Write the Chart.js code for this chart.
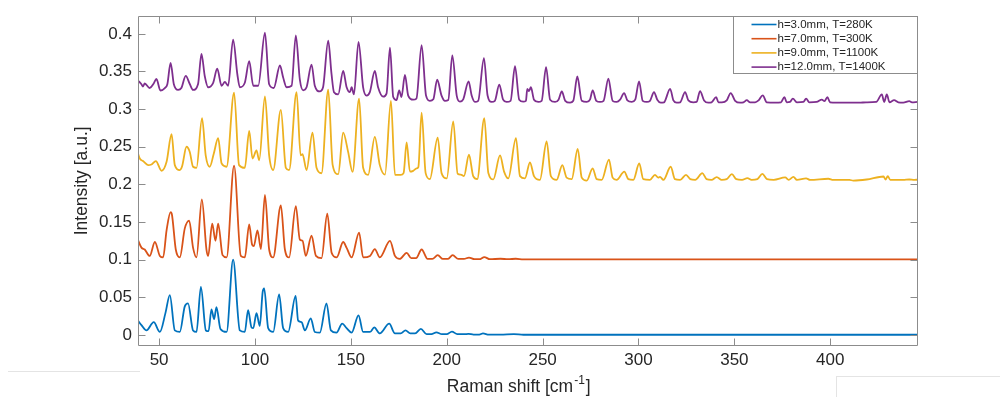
<!DOCTYPE html>
<html>
<head>
<meta charset="utf-8">
<script src="https://cdn.jsdelivr.net/npm/chart.js@4.4.1/dist/chart.umd.min.js"></script>
<style>
  html, body { margin: 0; padding: 0; background: #fff; }
  #wrap { width: 1000px; height: 397px; }
</style>
</head>
<body>
<div id="wrap"><canvas id="raman" width="1000" height="397"></canvas></div>
<script>
// Raman spectra, [shift cm^-1, intensity a.u.] (peaks and valleys)
const spec3mm = [
  [39, 0.019], [40.8, 0.013], [43.4, 0.006], [47.2, 0.017], [50.4, 0.004], [53.3, 0.029], [55.6, 0.053],
  [58.2, 0.006], [60.8, 0.004], [63.4, 0.038], [65.1, 0.042], [67.7, 0.006], [69.5, 0.004], [71.8, 0.064],
  [74.4, 0.006], [75.8, 0.005], [77.3, 0.034], [78.7, 0.021], [79.9, 0.037], [82, 0.008], [85.2, 0.004],
  [88.6, 0.100], [92.1, 0.006], [94.7, 0.004], [96.4, 0.033], [98.2, 0.010], [99.1, 0.009], [100.8, 0.029],
  [102.5, 0.012], [104, 0.057], [104.8, 0.062], [106.9, 0.009], [109.5, 0.004], [112.6, 0.054], [114.7, 0.009],
  [117.3, 0.004], [121.2, 0.052], [122.5, 0.019], [124.3, 0.017], [126, 0.006], [129.1, 0.022], [131.2, 0.004],
  [133.8, 0.003], [137.3, 0.042], [139.6, 0.006], [142.5, 0.003], [145.5, 0.015], [147.8, 0.009], [150.4, 0.003],
  [154, 0.026], [156.4, 0.004], [160, 0.004], [162.2, 0.010], [165.1, 0.002], [170, 0.015], [173, 0.002],
  [176, 0.002], [178.5, 0.006], [181, 0.002], [183.5, 0.002], [186.5, 0.008], [189.5, 0.001], [192, 0.001],
  [194.6, 0.0035], [197.5, 0.001], [200, 0.001], [202.7, 0.0045], [205.5, 0.001], [209, 0.001], [211.3, 0.0015],
  [214, 0.0005], [217, 0.0005], [218.9, 0.002], [222, 0.0005], [228, 0.0005], [235, 0.001], [240, 0.0003],
  [445.5, 0.0003]
];

const spec7mm = [
  [39, 0.126], [40.8, 0.116], [42.5, 0.1135], [45.1, 0.105], [47.8, 0.1235], [50.4, 0.105], [52.1, 0.103],
  [53.9, 0.139], [56, 0.163], [56.6, 0.161], [58.7, 0.1135], [60.8, 0.103], [63.4, 0.1416], [65.7, 0.152],
  [67.7, 0.116], [69.5, 0.103], [72.3, 0.180], [74.7, 0.1135], [75.6, 0.105], [77.7, 0.148], [79.4, 0.125],
  [80.8, 0.148], [83.1, 0.106], [85.2, 0.103], [89.1, 0.225], [92.6, 0.105], [94.7, 0.103], [97, 0.147],
  [98.5, 0.120], [99.4, 0.118], [101.3, 0.139], [103.1, 0.114], [105.2, 0.186], [107.4, 0.1135], [109.5, 0.103],
  [113.5, 0.172], [115.6, 0.1135], [117.8, 0.103], [121.3, 0.171], [123.4, 0.1265], [124.8, 0.125], [126.5, 0.105],
  [129.5, 0.132], [131.8, 0.105], [134.7, 0.102], [137.7, 0.161], [140, 0.109], [142.6, 0.103], [146, 0.1235],
  [147.8, 0.1157], [150.4, 0.103], [154.3, 0.136], [156.4, 0.103], [160, 0.105], [162.5, 0.114], [165.1, 0.103],
  [170.4, 0.125], [173, 0.105], [175.5, 0.101], [179.1, 0.109], [181.5, 0.102], [184, 0.102], [186.9, 0.1135],
  [190, 0.101], [192.5, 0.101], [195.3, 0.106], [198, 0.101], [200.5, 0.101], [203.1, 0.106], [206, 0.101],
  [209, 0.101], [211.6, 0.1028], [214.5, 0.1006], [217, 0.1006], [219.6, 0.1035], [222.5, 0.1006], [228, 0.1012],
  [232, 0.1006], [236, 0.1012], [240, 0.1003], [445.5, 0.1003]
];

const spec9mm = [
  [39, 0.241], [40, 0.234], [41.6, 0.231], [44.3, 0.2256], [46, 0.2265], [48.3, 0.231], [51.3, 0.218],
  [53.9, 0.230], [56.5, 0.2666], [58.2, 0.2256], [60.8, 0.219], [62, 0.224], [64.3, 0.250], [66, 0.243],
  [67.7, 0.2234], [69.5, 0.222], [72.4, 0.288], [74.3, 0.2385], [76.4, 0.2234], [78.5, 0.2407], [80.8, 0.2614],
  [82.6, 0.2278], [85.2, 0.2234], [89.1, 0.322], [91.7, 0.2256], [94.7, 0.222], [97, 0.271], [98.7, 0.2343],
  [100.8, 0.245], [102.2, 0.232], [105.2, 0.317], [107.4, 0.2385], [109.5, 0.219], [113.5, 0.299], [116.1, 0.222],
  [117.8, 0.219], [121.7, 0.3226], [123.8, 0.2385], [124.8, 0.240], [126.9, 0.219], [130, 0.2687], [132.1, 0.222],
  [134.7, 0.2148], [138.2, 0.326], [140.5, 0.226], [143.4, 0.2135], [146, 0.2687], [148.6, 0.2428], [150.9, 0.2165],
  [154.3, 0.314], [156.4, 0.222], [159, 0.2127], [162.5, 0.263], [165.1, 0.2256], [167.8, 0.213], [170.9, 0.311],
  [173, 0.2127], [176, 0.2127], [177.5, 0.215], [179.1, 0.2557], [180.8, 0.217], [182.5, 0.218], [184.3, 0.2213],
  [185.2, 0.223], [186.9, 0.2954], [189, 0.215], [191.2, 0.2071], [195.3, 0.2622], [197.3, 0.215], [200, 0.208],
  [203.4, 0.2838], [205.7, 0.214], [207.3, 0.213], [209, 0.211], [211.6, 0.2394], [213.8, 0.211], [215.9, 0.207],
  [219.6, 0.288], [221.7, 0.215], [224.3, 0.2067], [227.8, 0.2385], [229.9, 0.217], [232.1, 0.208], [236.1, 0.2614],
  [238.2, 0.211], [240.8, 0.208], [243.4, 0.2291], [245.5, 0.211], [248.6, 0.206], [252.1, 0.257], [254.3, 0.211],
  [257.3, 0.206], [260.3, 0.2256], [262.5, 0.209], [265.2, 0.207], [268.3, 0.2472], [270.4, 0.209], [273, 0.205],
  [276.1, 0.2213], [278.2, 0.207], [280.8, 0.206], [284.6, 0.233], [286.5, 0.209], [288.6, 0.206], [292.6, 0.217],
  [294.7, 0.207], [297.3, 0.206], [300.4, 0.2278], [302.5, 0.207], [306, 0.206], [308.6, 0.2127], [310.3, 0.209],
  [311.2, 0.210], [313, 0.206], [316.8, 0.2234], [319, 0.207], [321.7, 0.206], [324.8, 0.2127], [327, 0.207],
  [329.6, 0.206], [333.3, 0.2149], [335.5, 0.207], [338.1, 0.206], [340.8, 0.2097], [343.4, 0.206], [346, 0.207],
  [348.7, 0.2136], [351, 0.207], [354, 0.206], [356.8, 0.2084], [359, 0.206], [362, 0.207], [364.6, 0.214],
  [367, 0.207], [370.5, 0.206], [376.5, 0.2092], [378.3, 0.206], [380.8, 0.210], [382.6, 0.206], [387.4, 0.208],
  [389.5, 0.206], [399, 0.2075], [401.6, 0.206], [410, 0.206], [412, 0.205], [419, 0.2065], [427.8, 0.2105],
  [428.8, 0.2065], [430, 0.211], [431.3, 0.206], [438, 0.206], [441.2, 0.2065], [443.8, 0.206], [445.5, 0.2063]
];

const spec12mm = [
  [39, 0.338], [40.8, 0.333], [41.6, 0.330], [42.5, 0.334], [45.1, 0.328], [47.2, 0.334], [48.6, 0.340],
  [50.7, 0.3247], [53, 0.328], [54.3, 0.333], [56, 0.3613], [57.7, 0.333], [59.9, 0.3255], [61.6, 0.328],
  [63.9, 0.3441], [66, 0.3333], [67.7, 0.3255], [70.3, 0.333], [72.1, 0.3734], [73.8, 0.344], [75.6, 0.329],
  [78.2, 0.335], [80.3, 0.3536], [82.6, 0.331], [84.3, 0.336], [86, 0.331], [88.6, 0.3924], [90.8, 0.3463],
  [92.1, 0.329], [94.7, 0.335], [97, 0.3636], [99.1, 0.331], [101.7, 0.331], [105.2, 0.4014], [107.4, 0.333],
  [109.8, 0.328], [113, 0.3579], [114.7, 0.342], [116.5, 0.329], [119.1, 0.331], [121.3, 0.398], [123.4, 0.339],
  [125.1, 0.325], [126.9, 0.329], [129.5, 0.3592], [131.2, 0.331], [133.8, 0.3235], [135.5, 0.329], [138.2, 0.391],
  [139.9, 0.347], [141.2, 0.3225], [143.4, 0.3195], [146, 0.3506], [147.8, 0.329], [149.5, 0.3225], [150.4, 0.329],
  [151.6, 0.3195], [154, 0.3894], [156.4, 0.329], [158.2, 0.318], [159.9, 0.3225], [162.5, 0.3506], [164.2, 0.329],
  [166.9, 0.3165], [168.6, 0.3205], [170.4, 0.3816], [172.1, 0.316], [173.8, 0.312], [175.2, 0.3248], [176.4, 0.316],
  [178.2, 0.3454], [179.9, 0.318], [182.5, 0.3125], [184.2, 0.314], [186.9, 0.385], [189.2, 0.318], [191.2, 0.311],
  [193, 0.313], [195, 0.339], [197.3, 0.318], [199.1, 0.311], [200.8, 0.312], [202.9, 0.3713], [205.2, 0.318],
  [206.9, 0.310], [208.6, 0.313], [211.4, 0.3368], [213, 0.318], [214.7, 0.3095], [216.4, 0.311], [219.4, 0.3678],
  [221.3, 0.318], [223.4, 0.3095], [225.1, 0.311], [227.4, 0.3325], [229.4, 0.3125], [231.2, 0.3095], [233.3, 0.311],
  [235.6, 0.357], [237.8, 0.3125], [239.9, 0.310], [241.3, 0.311], [242, 0.3268], [242.9, 0.324], [243.9, 0.329],
  [245.5, 0.3125], [247.7, 0.3095], [249.5, 0.311], [251.8, 0.3558], [253.9, 0.3125], [256.5, 0.3095], [258.3, 0.3125],
  [260, 0.3234], [261.8, 0.311], [264.3, 0.3085], [266, 0.311], [268.1, 0.3433], [270.4, 0.311], [273, 0.3095],
  [274.7, 0.3125], [276.1, 0.3248], [278, 0.311], [280, 0.3095], [281.8, 0.311], [284.3, 0.3406], [286.5, 0.311],
  [288.6, 0.3095], [290.4, 0.3125], [292.5, 0.3213], [294.2, 0.3115], [296.5, 0.3095], [298.3, 0.3125], [300.3, 0.3368],
  [302.2, 0.311], [304.3, 0.3095], [306, 0.311], [308.1, 0.3226], [309.8, 0.3125], [311.6, 0.3085], [313.3, 0.309],
  [316.5, 0.3268], [318.2, 0.3115], [319.9, 0.3085], [321.7, 0.309], [324.3, 0.3226], [326, 0.3115], [328.6, 0.309],
  [330.3, 0.3095], [332.1, 0.3239], [334.2, 0.3115], [336.4, 0.3085], [338.1, 0.309], [340.5, 0.316], [341.7, 0.309],
  [343.5, 0.309], [346, 0.3115], [348.1, 0.3213], [350.4, 0.311], [353, 0.3085], [354.7, 0.309], [356.5, 0.3118],
  [358.2, 0.309], [360.8, 0.309], [362.6, 0.3115], [364.8, 0.3183], [366.9, 0.309], [371.2, 0.3085], [374.3, 0.309],
  [376.1, 0.316], [377.3, 0.309], [379, 0.3095], [380.5, 0.3139], [382.6, 0.309], [386, 0.3095], [387.4, 0.3139],
  [389.1, 0.309], [392.9, 0.3095], [395.6, 0.3126], [397, 0.3105], [398.5, 0.316], [399.9, 0.309], [403.3, 0.3085],
  [410, 0.3085], [415.2, 0.3085], [418.7, 0.309], [424, 0.3095], [426.9, 0.3195], [428.1, 0.3095], [429.5, 0.3195],
  [430.9, 0.309], [433.3, 0.3118], [435.5, 0.309], [438.1, 0.3085], [441.2, 0.3105], [442.6, 0.309], [445.5, 0.3095]
];

const seriesLabels = ['h=3.0mm, T=280K', 'h=7.0mm, T=300K', 'h=9.0mm, T=1100K', 'h=12.0mm, T=1400K'];
const seriesColors = ['#0072BD', '#D95319', '#EDB120', '#7E2F8E'];
const xTickValues = [50, 100, 150, 200, 250, 300, 350, 400];
const yTickValues = [0, 0.05, 0.1, 0.15, 0.2, 0.25, 0.3, 0.35, 0.4];

const AXIS = '#8c8c8c';
const TEXT = '#262626';
const FONT = "'Liberation Sans', Arial, Helvetica, sans-serif";

// Box, inward ticks, legend and x-label with superscript (MATLAB look)
const matlabFrame = {
  id: 'matlabFrame',
  afterDatasetsDraw(chart) {
    const { ctx, chartArea: a, scales: { x, y } } = chart;
    const L = Math.round(a.left) + 0.5, R = Math.round(a.right) - 0.5;
    const T = Math.round(a.top) + 0.5, B = Math.round(a.bottom) - 0.5;
    ctx.save();
    ctx.strokeStyle = AXIS;
    ctx.lineWidth = 1;
    ctx.beginPath();
    ctx.rect(L, T, R - L, B - T);
    x.ticks.forEach(t => {
      const px = Math.round(x.getPixelForValue(t.value)) + 0.5;
      ctx.moveTo(px, B); ctx.lineTo(px, B - 7);
      ctx.moveTo(px, T); ctx.lineTo(px, T + 7);
    });
    y.ticks.forEach(t => {
      const py = Math.round(y.getPixelForValue(t.value)) + 0.5;
      ctx.moveTo(L, py); ctx.lineTo(L + 7, py);
      ctx.moveTo(R, py); ctx.lineTo(R - 7, py);
    });
    ctx.stroke();

    // legend box in the top-right corner
    const lw = 184, lh = 57;
    const lx = R - lw;
    ctx.fillStyle = '#fff';
    ctx.fillRect(lx, T, lw, lh);
    ctx.strokeRect(lx, T, lw, lh);
    ctx.font = '11.5px ' + FONT;
    ctx.textBaseline = 'middle';
    ctx.textAlign = 'left';
    chart.data.datasets.forEach((ds, i) => {
      const ly = T + 8 + i * 14.2;
      ctx.strokeStyle = ds.borderColor;
      ctx.lineWidth = 1.6;
      ctx.beginPath();
      ctx.moveTo(lx + 18, ly); ctx.lineTo(lx + 43, ly);
      ctx.stroke();
      ctx.fillStyle = TEXT;
      ctx.fillText(ds.label, lx + 44, ly);
    });

    // x axis label: Raman shift [cm^-1]
    const main = 'Raman shift [cm', sup = '-1', tail = ']';
    ctx.fillStyle = TEXT;
    ctx.textBaseline = 'alphabetic';
    ctx.font = '17.5px ' + FONT;
    const w1 = ctx.measureText(main).width, w3 = ctx.measureText(tail).width;
    ctx.font = '12px ' + FONT;
    const w2 = ctx.measureText(sup).width;
    let tx = (a.left + a.right) / 2 - 10 - (w1 + w2 + w3) / 2;
    const base = 392;
    ctx.font = '17.5px ' + FONT;
    ctx.fillText(main, tx, base);
    ctx.font = '12px ' + FONT;
    ctx.fillText(sup, tx + w1 + 1, base - 8);
    ctx.font = '17.5px ' + FONT;
    ctx.fillText(tail, tx + w1 + w2 + 2, base);

    // faint page edges visible in the original screenshot
    ctx.strokeStyle = '#e4e4e4';
    ctx.lineWidth = 1;
    ctx.beginPath();
    ctx.moveTo(8, 371.5); ctx.lineTo(140, 371.5);
    ctx.moveTo(836.5, 376); ctx.lineTo(836.5, 397);
    ctx.moveTo(836, 376.5); ctx.lineTo(1000, 376.5);
    ctx.stroke();
    ctx.restore();
  }
};

const toPoints = arr => arr.map(([sx, iy]) => ({ x: sx, y: iy }));
const allSpectra = [spec3mm, spec7mm, spec9mm, spec12mm];

new Chart(document.getElementById('raman'), {
  type: 'line',
  data: {
    datasets: allSpectra.map((s, i) => ({
      label: seriesLabels[i],
      data: toPoints(s),
      borderColor: seriesColors[i],
      backgroundColor: seriesColors[i],
      borderWidth: 1.8,
      pointRadius: 0,
      cubicInterpolationMode: 'monotone',
      fill: false
    }))
  },
  options: {
    responsive: false,
    animation: false,
    devicePixelRatio: 1,
    layout: { padding: { left: 0, right: 82.5, top: 7, bottom: 0 } },
    plugins: {
      legend: { display: false },
      tooltip: { enabled: false }
    },
    scales: {
      x: {
        type: 'linear',
        min: 39,
        max: 445.5,
        afterBuildTicks: s => { s.ticks = xTickValues.map(v => ({ value: v })); },
        afterFit: s => { s.height = 51.5; },
        grid: { display: false, drawTicks: false },
        border: { display: false },
        ticks: {
          padding: 5,
          color: TEXT,
          font: { family: FONT, size: 17 },
          maxRotation: 0,
          callback: v => String(v)
        },
        title: { display: false }
      },
      y: {
        min: -0.014,
        max: 0.4234,
        afterBuildTicks: s => { s.ticks = yTickValues.map(v => ({ value: v })); },
        afterFit: s => { s.width = 138; },
        grid: { display: false, drawTicks: false },
        border: { display: false },
        ticks: {
          padding: 6,
          color: TEXT,
          font: { family: FONT, size: 17 },
          callback: v => String(+v.toFixed(2))
        },
        title: {
          display: true,
          text: 'Intensity [a.u.]',
          color: TEXT,
          font: { family: FONT, size: 17.5 },
          padding: { top: 71.5, bottom: 0 }
        }
      }
    }
  },
  plugins: [matlabFrame]
});
</script>
</body>
</html>
